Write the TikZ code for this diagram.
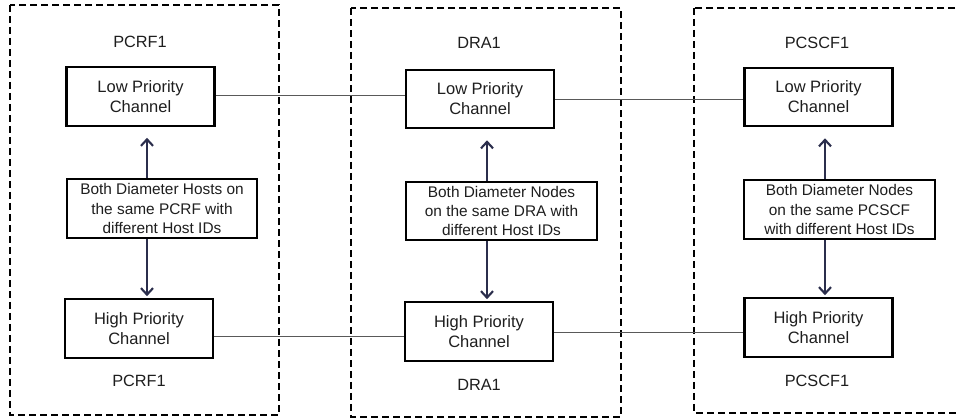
\documentclass[tikz,border=0pt]{standalone}
\usepackage{fontspec}
\setmainfont{Liberation Sans}
\usetikzlibrary{arrows.meta}
\definecolor{navy}{HTML}{2B2E4C}
\definecolor{txt}{HTML}{1E1E1E}
\begin{document}
\begin{tikzpicture}[x=1pt,y=-1pt,
  chanbox/.style={draw=black,line width=2.1pt,minimum width=148pt,minimum height=58.5pt,
    align=center,inner sep=0pt,text=txt,font=\fontsize{16.5}{20}\selectfont},
  midbox/.style={draw=black,line width=2.1pt,minimum width=190.5pt,minimum height=58.5pt,
    align=center,inner sep=0pt,text=txt,font=\fontsize{15.4}{19.3}\selectfont},
  sitelabel/.style={text=txt,inner sep=0pt,font=\fontsize{16.3}{19}\selectfont},
  panel/.style={draw=black,line width=2.4pt,dash pattern=on 7pt off 4pt},
  link/.style={draw=black!65,line width=1pt},
  onearrow/.style={draw=navy,line width=2.1pt,-{Straight Barb[length=6.5pt,width=12pt,line width=2.1pt]}}
]
\useasboundingbox (0,0) rectangle (959,419);
\fill[white] (0,0) rectangle (959,419);

% panels
\draw[panel] (10,5) rectangle (279,415);
\draw[panel] (351,8) rectangle (621,417);
\draw[panel] (694,8) rectangle (975,413);

% PCRF1
\node[sitelabel] (pt) at (140,42) {PCRF1};
\node[chanbox] (pl) at (140.5,96.5) {Low Priority\\Channel};
\node[midbox] (pm) at (162,208.5) {Both Diameter Hosts on\\the same PCRF with\\different Host IDs};
\node[chanbox] (ph) at (139,328.5) {High Priority\\Channel};
\node[sitelabel] (pb) at (139,381) {PCRF1};
\coordinate (pa) at (147,0);

% DRA1
\node[sitelabel] (dt) at (479,43) {DRA1};
\node[chanbox] (dl) at (480,99) {Low Priority\\Channel};
\node[midbox] (dm) at (501.5,211) {Both Diameter Nodes\\on the same DRA with\\different Host IDs};
\node[chanbox] (dh) at (479,331.5) {High Priority\\Channel};
\node[sitelabel] (db) at (479,385) {DRA1};
\coordinate (da) at (487,0);

% PCSCF1
\node[sitelabel] (st) at (817,43) {PCSCF1};
\node[chanbox] (sl) at (818.5,97) {Low Priority\\Channel};
\node[midbox] (sm) at (839.5,209.5) {Both Diameter Nodes\\on the same PCSCF\\with different Host IDs};
\node[chanbox] (sh) at (818.5,327.5) {High Priority\\Channel};
\node[sitelabel] (sb) at (817,381) {PCSCF1};
\coordinate (sa) at (825,0);

% vertical arrows
\draw[onearrow,shorten >=11pt] (pa |- pm.north) -- (pa |- pl.south);
\draw[onearrow,shorten >=2pt] (pa |- pm.south) -- (pa |- ph.north);
\draw[onearrow,shorten >=11pt] (da |- dm.north) -- (da |- dl.south);
\draw[onearrow,shorten >=2pt] (da |- dm.south) -- (da |- dh.north);
\draw[onearrow,shorten >=11pt] (sa |- sm.north) -- (sa |- sl.south);
\draw[onearrow,shorten >=2pt] (sa |- sm.south) -- (sa |- sh.north);

% horizontal links
\draw[link] ([yshift=1pt]pl.east) -- ([yshift=1pt]pl.east -| dl.west);
\draw[link] ([yshift=-2.5pt]sl.west -| dl.east) -- ([yshift=-2.5pt]sl.west);
\draw[link] ([yshift=-8.5pt]ph.east) -- ([yshift=-8.5pt]ph.east -| dh.west);
\draw[link] ([yshift=-5pt]sh.west -| dh.east) -- ([yshift=-5pt]sh.west);
\end{tikzpicture}
\end{document}
